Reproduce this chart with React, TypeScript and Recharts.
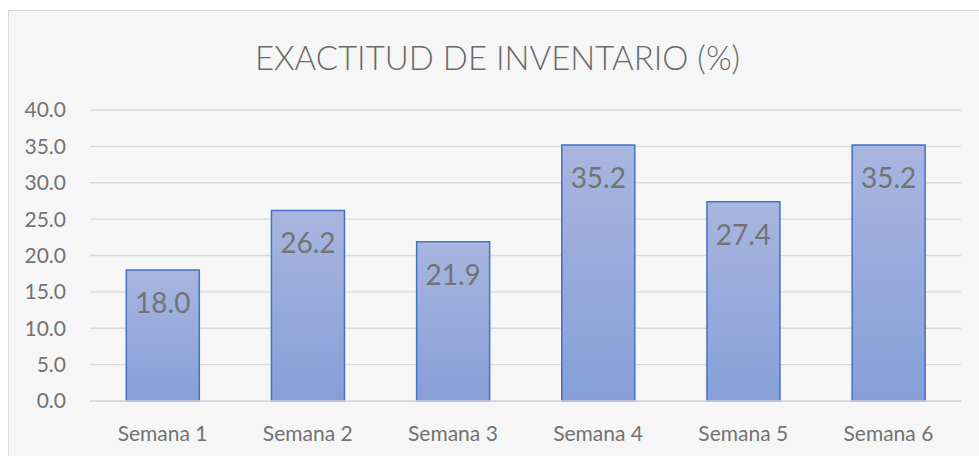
import React from 'react';
import { BarChart, Bar, XAxis, YAxis, CartesianGrid, LabelList } from 'recharts';

const categories = ['Semana 1', 'Semana 2', 'Semana 3', 'Semana 4', 'Semana 5', 'Semana 6'];
const values = [18.0, 26.2, 21.9, 35.2, 27.4, 35.2];
const yTicks = [0, 5, 10, 15, 20, 25, 30, 35, 40];
const title = 'EXACTITUD DE INVENTARIO (%)';

const data = categories.map((c, i) => ({ name: c, value: values[i] }));

const FONT = 'Lato, "Open Sans", sans-serif';
const TXT = '#737373';

export default function App() {
  return (
    <div style={{ position: 'absolute', left: 0, top: 0, width: 979, height: 456, overflow: 'hidden', background: '#ffffff' }}>
      <div style={{ position: 'absolute', left: 8, top: 10, width: 1000, height: 500, border: '1px solid #d9d9d9', background: '#f6f6f6' }} />
      <div style={{ position: 'absolute', left: 8, top: 35, width: 979, textAlign: 'center', fontFamily: FONT, fontSize: 33, fontWeight: 300, color: '#6a6a6a', lineHeight: '44px' }}>
        {title}
      </div>
      <div style={{ position: 'absolute', left: 0, top: 0 }}>
        <BarChart width={979} height={456} data={data} margin={{ top: 110, right: 18, bottom: 25, left: 0 }} barCategoryGap="25%">
          <defs>
            <linearGradient id="barGrad" x1="0" y1="0" x2="0" y2="1">
              <stop offset="0%" stopColor="#a8b6df" />
              <stop offset="100%" stopColor="#879ed8" />
            </linearGradient>
          </defs>
          <CartesianGrid vertical={false} stroke="#d9d9d9" strokeWidth={1.3} />
          <XAxis
            dataKey="name"
            height={30}
            axisLine={{ stroke: '#d9d9d9', strokeWidth: 1.3 }}
            tickLine={false}
            tickSize={0}
            tickMargin={25}
            tick={{ fill: TXT, fontSize: 21, fontFamily: FONT }}
          />
          <YAxis
            width={90}
            domain={[0, 40]}
            ticks={yTicks}
            axisLine={false}
            tickLine={false}
            tickSize={0}
            tickMargin={24}
            tickFormatter={(v: number) => v.toFixed(1)}
            tick={{ fill: TXT, fontSize: 21, fontFamily: FONT }}
          />
          <Bar dataKey="value" fill="url(#barGrad)" stroke="#4472c4" strokeWidth={1.5} isAnimationActive={false}>
            <LabelList
              dataKey="value"
              position="insideTop"
              offset={23}
              formatter={(v: number) => v.toFixed(1)}
              style={{ fill: TXT, fontSize: 28, fontFamily: FONT }}
            />
          </Bar>
        </BarChart>
      </div>
    </div>
  );
}
